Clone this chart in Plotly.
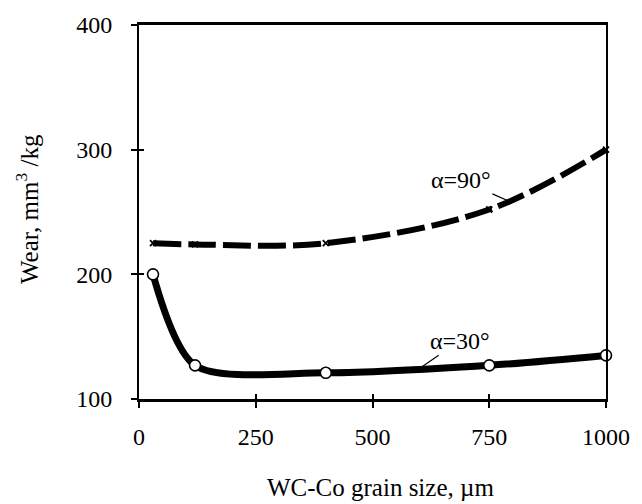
import plotly.graph_objects as go

# Data
grain_size = [30, 120, 400, 750, 1000]
wear_alpha30 = [200, 127, 121, 127, 135]
wear_alpha90 = [225, 224, 225, 252, 300]

x_ticks = [0, 250, 500, 750, 1000]
y_ticks = [100, 200, 300, 400]

FONT = "Liberation Serif"
FS_TICK = 24
FS_TITLE = 25
FS_ANN = 24

fig = go.Figure()

fig.add_trace(go.Scatter(
    x=grain_size, y=wear_alpha90, mode="lines+markers",
    line=dict(color="black", width=6, dash="28px,7px", shape="spline", smoothing=1.0),
    marker=dict(symbol="x-thin", size=6, color="black", line=dict(color="black", width=1.8)),
    showlegend=False, cliponaxis=False,
))
fig.add_trace(go.Scatter(
    x=grain_size, y=wear_alpha30, mode="lines+markers",
    line=dict(color="black", width=7, shape="spline", smoothing=0.8),
    marker=dict(symbol="circle", size=11, color="white", line=dict(color="black", width=1.6)),
    showlegend=False, cliponaxis=False,
))

axis_common = dict(showgrid=False, zeroline=False, color="black",
                   tickfont=dict(family=FONT, size=FS_TICK, color="black"))

fig.update_layout(
    width=642, height=504,
    margin=dict(l=139, r=27, t=18, b=105),
    paper_bgcolor="white", plot_bgcolor="white",
    font=dict(family=FONT, size=FS_TICK, color="black"),
    xaxis=dict(range=[0, 1000], tickvals=x_ticks, ticks="outside", ticklen=6, tickwidth=1.5,
               showline=True, linewidth=2.5, linecolor="black", mirror=True,
               ticklabelstandoff=8, **axis_common),
    yaxis=dict(range=[100, 400], tickvals=y_ticks, ticks="outside", ticklen=6, tickwidth=1.5,
               showline=True, linewidth=2, linecolor="black", mirror=True,
               ticklabelstandoff=14, **axis_common),
    xaxis2=dict(range=[0, 1000], tickvals=x_ticks[1:-1], overlaying="x", anchor="y", side="bottom",
                ticks="inside", ticklen=5, tickwidth=1.5, tickcolor="black",
                showticklabels=False, showline=False, showgrid=False, zeroline=False),
    yaxis2=dict(range=[100, 400], tickvals=y_ticks[1:-1], overlaying="y", anchor="x", side="left",
                ticks="inside", ticklen=5, tickwidth=1.5, tickcolor="black",
                showticklabels=False, showline=False, showgrid=False, zeroline=False),
)

# invisible trace so that the overlay axes (inner tick marks) are drawn
fig.add_trace(go.Scatter(x=[None], y=[None], xaxis="x2", yaxis="y2", showlegend=False, hoverinfo="skip"))

fig.add_annotation(text="Wear, mm<sup>3</sup> /kg", xref="paper", yref="paper", x=0, y=0.5,
                   xanchor="center", yanchor="middle", xshift=-112, yshift=3, textangle=-90,
                   showarrow=False, font=dict(family=FONT, size=FS_TITLE))
fig.add_annotation(text="WC-Co grain size, µm", xref="paper", yref="paper", x=0.5, y=0,
                   xanchor="center", yanchor="middle", xshift=8, yshift=-88,
                   showarrow=False, font=dict(family=FONT, size=FS_TITLE))

fig.add_annotation(text="α=90°", x=790, y=259, ax=-47, ay=-21, showarrow=True,
                   arrowhead=0, arrowwidth=1.2, arrowcolor="black",
                   font=dict(family=FONT, size=FS_ANN))
fig.add_annotation(text="α=30°", x=603, y=125, ax=39, ay=-27, showarrow=True,
                   arrowhead=0, arrowwidth=1.2, arrowcolor="black",
                   font=dict(family=FONT, size=FS_ANN))

fig.write_html("out.html")
